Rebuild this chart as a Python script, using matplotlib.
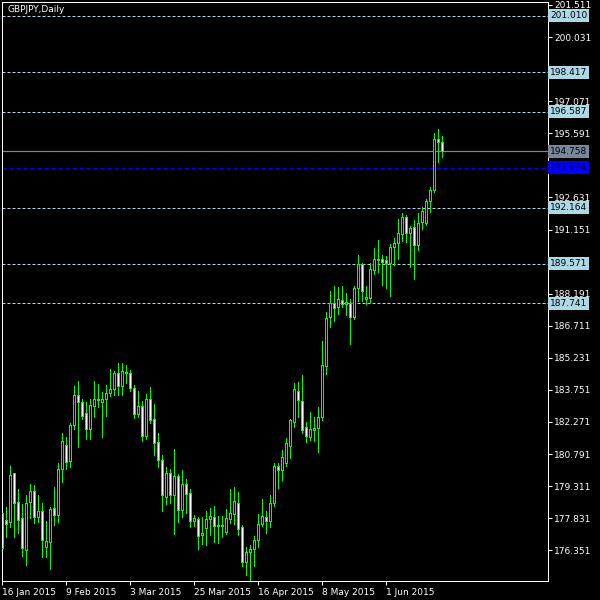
import matplotlib

matplotlib.use('Agg')
import matplotlib.pyplot as plt
import numpy as np
import pandas as pd

symbol = 'GBPJPY,Daily'
start_date = '2015-01-16'

# daily OHLC, one row of 10 bars per line
opens = [178.06, 177.72, 177.64, 179.90, 178.55, 177.81, 176.33, 178.55, 179.07, 177.87,
         178.15, 176.49, 176.70, 178.29, 177.95, 180.09, 181.19, 180.46, 182.12, 183.50,
         183.18, 182.67, 181.93, 182.98, 183.29, 183.16, 183.32, 183.59, 183.78, 184.49,
         183.90, 184.52, 184.52, 183.81, 182.62, 182.98, 181.59, 183.32, 182.39, 181.32,
         180.49, 178.79, 179.90, 178.89, 179.75, 178.18, 179.39, 178.98, 177.69, 177.78,
         177.04, 177.35, 177.78, 177.87, 177.47, 177.44, 177.19, 177.78, 177.99, 178.52,
         177.38, 175.78, 176.24, 176.37, 176.79, 177.53, 177.87, 177.66, 178.49, 180.24,
         180.02, 180.36, 181.16, 182.24, 183.69, 183.22, 182.02, 181.56, 181.87, 181.96,
         182.47, 184.82, 187.10, 187.75, 187.56, 187.87, 187.71, 187.75, 187.10, 188.44,
         189.52, 187.93, 187.96, 189.25, 189.71, 189.75, 189.73, 189.59, 190.33, 190.51,
         190.93, 191.71, 190.98, 191.25, 190.42, 191.47, 191.42, 192.45, 192.94, 195.31,
         195.16]
highs = [178.10, 178.33, 180.24, 179.93, 179.16, 178.49, 178.90, 179.39, 179.35, 178.89,
         178.52, 177.69, 178.33, 179.27, 180.36, 181.75, 181.56, 182.21, 183.93, 184.15,
         183.32, 183.19, 183.32, 184.15, 184.02, 183.66, 183.96, 184.72, 184.61, 184.98,
         184.98, 184.89, 184.67, 183.96, 183.69, 183.26, 183.56, 183.90, 183.10, 181.75,
         180.73, 180.21, 180.12, 181.03, 179.87, 180.06, 179.63, 179.16, 177.97, 177.87,
         177.87, 178.16, 178.30, 178.39, 177.93, 177.93, 178.24, 179.18, 179.27, 179.04,
         177.52, 176.49, 176.60, 177.01, 178.02, 178.70, 178.18, 178.90, 180.39, 180.36,
         180.98, 181.53, 182.40, 184.07, 184.12, 184.44, 182.27, 182.73, 182.48, 182.98,
         186.01, 187.33, 188.30, 188.55, 188.48, 188.55, 188.24, 187.93, 188.55, 189.98,
         189.59, 188.55, 189.59, 190.30, 190.67, 189.96, 189.93, 190.48, 190.76, 191.64,
         191.90, 191.81, 191.31, 191.59, 191.91, 192.18, 192.54, 193.13, 195.59, 195.79,
         195.47]
lows = [176.30, 176.95, 177.44, 176.98, 177.16, 176.10, 175.69, 177.83, 177.59, 177.64,
        176.06, 176.06, 175.47, 177.52, 177.67, 179.52, 180.12, 180.21, 181.96, 181.13,
        182.41, 181.47, 181.50, 182.52, 182.95, 181.59, 182.56, 183.49, 183.50, 183.53,
        183.50, 184.09, 183.69, 182.47, 182.52, 181.41, 181.47, 182.24, 180.73, 180.18,
        178.18, 178.47, 178.52, 177.12, 177.67, 177.87, 178.09, 177.44, 177.49, 176.41,
        176.66, 176.61, 177.07, 176.73, 176.70, 176.98, 177.10, 177.59, 177.56, 177.07,
        175.64, 175.23, 174.89, 175.64, 176.52, 177.47, 177.17, 177.44, 178.39, 179.22,
        179.59, 180.24, 180.62, 182.06, 182.51, 181.75, 181.35, 181.44, 181.41, 180.90,
        182.36, 184.48, 186.67, 186.95, 187.25, 187.59, 187.22, 185.88, 187.01, 187.87,
        187.85, 187.71, 187.82, 189.10, 189.19, 188.61, 188.47, 188.07, 189.50, 189.81,
        190.64, 190.59, 189.44, 188.88, 190.21, 191.19, 191.35, 191.98, 192.90, 194.28,
        194.51]
closes = [176.45, 177.56, 179.81, 178.52, 177.72, 176.43, 178.52, 179.07, 177.87, 178.15,
          176.80, 176.77, 178.24, 177.95, 180.09, 181.38, 180.41, 182.12, 183.50, 183.18,
          182.52, 181.93, 183.04, 183.29, 183.26, 183.29, 183.59, 183.78, 184.52, 183.90,
          184.61, 184.49, 183.81, 182.62, 182.98, 181.59, 183.32, 182.33, 181.29, 180.49,
          178.89, 179.90, 178.89, 179.75, 178.18, 179.39, 178.93, 177.69, 177.80, 176.98,
          177.13, 177.78, 177.93, 177.44, 177.44, 177.47, 177.84, 178.06, 178.58, 177.32,
          175.78, 176.27, 176.39, 176.82, 177.56, 177.90, 177.66, 178.52, 180.24, 180.02,
          180.64, 181.29, 182.36, 183.75, 183.26, 181.87, 181.59, 181.93, 181.99, 182.48,
          184.89, 187.04, 187.75, 187.50, 187.93, 187.68, 187.78, 187.10, 188.44, 189.52,
          188.30, 188.02, 189.31, 189.78, 189.78, 189.62, 189.59, 190.33, 190.51, 190.98,
          191.71, 190.98, 191.21, 190.42, 191.44, 191.96, 192.45, 192.96, 195.31, 195.16,
          194.758]

ytick_values = [201.511, 200.031, 197.071, 195.591, 192.631, 191.151, 188.191,
                186.711, 185.231, 183.751, 182.271, 180.791, 179.311, 177.831, 176.351]
level_values = [201.010, 198.417, 196.587, 192.164, 189.571, 187.741]
bid_price = 194.758
blue_price = 193.994
xtick_every = 16

dates = pd.bdate_range(start_date, periods=len(closes))

green = '#00ff00'
lightblue = '#add8e6'
px = 0.72  # one pixel in points at 100 dpi
font = 'DejaVu Sans'
fsize = 6.5

ylo, yhi = 174.934, 201.649
ax_h_px = 579
pix = (yhi - ylo) / ax_h_px  # price per pixel

fig = plt.figure(figsize=(6, 6), dpi=100, facecolor='black')
ax = fig.add_axes([2 / 600, 19 / 600, 546 / 600, ax_h_px / 600])
ax.set_facecolor('black')

x = np.arange(len(closes))
o = np.array(opens)
h = np.array(highs)
l = np.array(lows)
c = np.array(closes)
bull = c >= o
top = np.maximum(o, c)
bot = np.minimum(o, c)

# wick, then green body 3px wide, then 1px fill inside
ax.vlines(x, l, h, color=green, linewidth=px, zorder=2, antialiased=False)
ax.bar(x, np.maximum(top - bot, pix) + pix, bottom=bot - pix / 2, width=0.75,
       color=green, linewidth=0, zorder=3, antialiased=False)
inner = np.clip(top - bot - pix, 0, None)
ax.bar(x, inner, bottom=bot + pix / 2, width=0.25,
       color=np.where(bull, 'black', 'white'), linewidth=0, zorder=4,
       antialiased=False)

# horizontal levels
for lvl in level_values:
    ax.axhline(lvl, color=lightblue, linewidth=px, linestyle=(0, (3, 2)), zorder=1)
ax.axhline(bid_price, color='#778899', linewidth=px * 1.2, zorder=1)
ax.axhline(blue_price, color='#0000ff', linewidth=px * 1.4, linestyle=(0, (3, 2)), zorder=1)

ax.set_xlim(-0.075, 136.425)
ax.set_ylim(ylo, yhi)

# right price scale
ax.yaxis.tick_right()
ax.set_yticks(ytick_values)
ax.set_yticklabels(['%.3f' % v for v in ytick_values], fontsize=fsize, family=font)
ax.tick_params(axis='y', colors='white', length=3, width=px, pad=1.5, direction='out')

# price tags
tag_x = 1 + 2 / 546
box = dict(boxstyle='square,pad=0.22', edgecolor='none')
for lvl in level_values:
    ax.text(tag_x, lvl, '%.3f' % lvl, transform=ax.get_yaxis_transform(), ha='left',
            va='center', fontsize=fsize, family=font, color='black',
            bbox=dict(box, facecolor=lightblue), clip_on=False, zorder=5)
ax.text(tag_x, bid_price, '%.3f' % bid_price, transform=ax.get_yaxis_transform(),
        ha='left', va='center', fontsize=fsize, family=font, color='black',
        bbox=dict(box, facecolor='#778899'), clip_on=False, zorder=5)
ax.text(tag_x, blue_price, '%.3f' % blue_price, transform=ax.get_yaxis_transform(),
        ha='left', va='center', fontsize=fsize, family=font, color='#000040',
        bbox=dict(box, facecolor='#0000ff'), clip_on=False, zorder=5)

# date axis
xt = x[::xtick_every]
ax.set_xticks(xt)
ax.set_xticklabels(['%d %s' % (dates[i].day, dates[i].strftime('%b %Y')) for i in xt],
                   fontsize=fsize, family=font)
for lbl in ax.get_xticklabels():
    lbl.set_ha('left')
ax.tick_params(axis='x', colors='white', length=3, width=px, pad=2, direction='out')

for s in ax.spines.values():
    s.set_color('white')
    s.set_linewidth(px)

fig.text(7 / 600, 1 - 10 / 600, symbol, color='white', fontsize=fsize, family=font,
         ha='left', va='center')

fig.savefig('out.png', dpi=100, facecolor='black')
